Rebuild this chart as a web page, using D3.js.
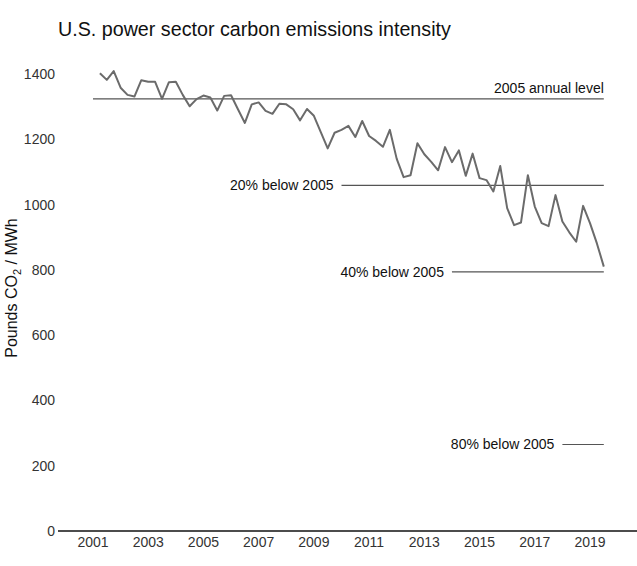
<!DOCTYPE html>
<html>
<head>
<meta charset="utf-8">
<script src="https://cdn.jsdelivr.net/npm/d3@7"></script>
<style>
  html, body { margin: 0; padding: 0; background: #fff; }
  svg { display: block; font-family: "Liberation Sans", Arial, sans-serif; }
</style>
</head>
<body>
<svg id="chart" width="637" height="566"></svg>
<script>
// Quarterly values, 2001 Q1 – 2019 Q2 (plotted at quarter-end dates)
const startYear = 2001;
const values = [
  1402, 1382, 1409, 1358, 1336, 1331, 1381, 1376,
  1376, 1324, 1375, 1376, 1336, 1301, 1323, 1334,
  1328, 1288, 1333, 1335, 1292, 1250, 1307, 1313,
  1287, 1278, 1309, 1307, 1292, 1258, 1293, 1272,
  1222, 1172, 1220, 1229, 1241, 1207, 1256, 1210,
  1195, 1177, 1229, 1140, 1084, 1090, 1188, 1154,
  1131, 1105, 1176, 1130, 1166, 1088, 1156, 1081,
  1075, 1040, 1118, 989, 937, 945, 1090, 994,
  943, 934, 1029, 948, 915, 886, 996, 943,
  881, 810
];
const xTickYears = [2001, 2003, 2005, 2007, 2009, 2011, 2013, 2015, 2017, 2019];
const yTicks = [0, 200, 400, 600, 800, 1000, 1200, 1400];
const refLabels = ["2005 annual level", "20% below 2005", "40% below 2005", "80% below 2005"];
const refValues = [1324, 1059, 794, 265];
const refStartYears = [2001, 2010, 2014, 2018];

const data = values.map((v, i) => ({ t: startYear + (i + 1) / 4, v }));
const endYear = data[data.length - 1].t;

const svg = d3.select("#chart");
const x = d3.scaleLinear().domain([2001, 2019]).range([93, 590]);
const y = d3.scaleLinear().domain([0, 1400]).range([531, 74]);

// Title
svg.append("text")
  .attr("x", 58).attr("y", 36)
  .attr("font-size", 19.7).attr("fill", "#111")
  .text("U.S. power sector carbon emissions intensity");

// Y axis title
const yt = svg.append("text")
  .attr("transform", "translate(17,288) rotate(-90)")
  .attr("text-anchor", "middle")
  .attr("font-size", 16).attr("fill", "#111");
yt.append("tspan").text("Pounds CO");
yt.append("tspan").attr("font-size", 11).attr("dy", 4).text("2");
yt.append("tspan").attr("dy", -4).text(" / MWh");

// Y tick labels
svg.append("g").selectAll("text").data(yTicks).join("text")
  .attr("x", 55).attr("y", d => y(d) + 5)
  .attr("text-anchor", "end")
  .attr("font-size", 14).attr("fill", "#333")
  .text(d => d);

// X axis baseline
svg.append("line")
  .attr("x1", 58).attr("x2", 637)
  .attr("y1", y(0)).attr("y2", y(0))
  .attr("stroke", "#111").attr("stroke-width", 1.5);

// X tick labels
svg.append("g").selectAll("text").data(xTickYears).join("text")
  .attr("x", d => x(d)).attr("y", 547)
  .attr("text-anchor", "middle")
  .attr("font-size", 14).attr("fill", "#333")
  .text(d => d);

// Reference lines
const refs = refValues.map((v, i) => ({ v, label: refLabels[i], start: refStartYears[i], i }));
svg.append("g").selectAll("line").data(refs).join("line")
  .attr("x1", d => x(d.start)).attr("x2", x(endYear))
  .attr("y1", d => y(d.v)).attr("y2", d => y(d.v))
  .attr("stroke", "#555").attr("stroke-width", 1.2);

svg.append("g").selectAll("text").data(refs).join("text")
  .attr("x", d => d.i === 0 ? x(endYear) : x(d.start) - 8)
  .attr("y", d => d.i === 0 ? y(d.v) - 6 : y(d.v) + 5)
  .attr("text-anchor", "end")
  .attr("font-size", 14).attr("fill", "#111")
  .text(d => d.label);

// Data line
svg.append("path")
  .datum(data)
  .attr("fill", "none")
  .attr("stroke", "#6b6b6b")
  .attr("stroke-width", 2)
  .attr("stroke-linejoin", "round")
  .attr("d", d3.line().x(d => x(d.t)).y(d => y(d.v)));
</script>
</body>
</html>
